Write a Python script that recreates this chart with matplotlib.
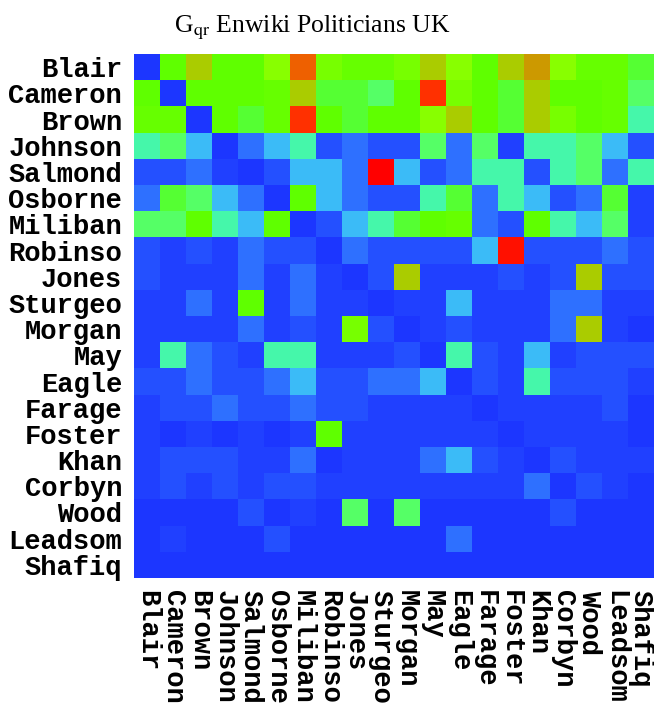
import numpy as np
import matplotlib
matplotlib.use('Agg')
import matplotlib.pyplot as plt
from matplotlib.colors import ListedColormap, BoundaryNorm

# politicians (rows and columns share the same order)
names = ['Blair', 'Cameron', 'Brown', 'Johnson', 'Salmond', 'Osborne', 'Miliban',
         'Robinso', 'Jones', 'Sturgeo', 'Morgan', 'May', 'Eagle', 'Farage',
         'Foster', 'Khan', 'Corbyn', 'Wood', 'Leadsom', 'Shafiq']

# colour levels seen in the picture, low -> high
level_colors = ['#1c36ff', '#2040ff', '#2450ff', '#2e70ff', '#3bbbf7', '#45f7aa',
                '#55ff66', '#55ff33', '#5fff00', '#66ff00', '#77ff00', '#88ff00',
                '#aacc00', '#cc9900', '#ee6000', '#ff3000', '#ff1000', '#ff0000']

# G_qr matrix, read as colour level per cell
row_blair   = [0, 8, 12, 8, 8, 11, 14, 10, 9, 9, 10, 12, 11, 8, 12, 13, 11, 9, 9, 7]
row_cameron = [8, 0, 8, 8, 8, 9, 12, 7, 7, 6, 8, 15, 10, 8, 7, 12, 8, 8, 9, 6]
row_brown   = [9, 9, 0, 8, 7, 9, 15, 8, 7, 8, 8, 11, 12, 8, 7, 12, 10, 8, 9, 5]
row_johnson = [5, 6, 4, 0, 3, 4, 5, 2, 3, 2, 2, 6, 3, 6, 1, 5, 5, 6, 4, 2]
row_salmond = [2, 2, 3, 1, 0, 2, 4, 4, 3, 17, 4, 2, 3, 5, 5, 2, 5, 6, 3, 5]
row_osborne = [3, 7, 6, 4, 3, 0, 8, 4, 3, 2, 2, 5, 7, 3, 5, 4, 2, 3, 7, 1]
row_miliban = [6, 6, 8, 5, 4, 8, 0, 2, 4, 5, 7, 8, 9, 3, 2, 8, 5, 4, 6, 1]
row_robinso = [2, 1, 2, 1, 3, 2, 2, 0, 3, 2, 2, 2, 2, 4, 16, 2, 2, 2, 3, 2]
row_jones   = [2, 1, 1, 1, 3, 1, 3, 1, 0, 2, 12, 1, 1, 1, 2, 1, 2, 12, 2, 2]
row_sturgeo = [1, 1, 3, 1, 8, 1, 3, 1, 1, 0, 1, 1, 4, 1, 1, 1, 3, 3, 1, 1]
row_morgan  = [1, 1, 1, 1, 3, 1, 2, 1, 10, 2, 0, 1, 2, 1, 1, 1, 3, 12, 1, 0]
row_may     = [1, 5, 3, 2, 1, 5, 5, 1, 1, 1, 2, 0, 5, 2, 1, 4, 1, 2, 2, 2]
row_eagle   = [2, 2, 3, 2, 2, 3, 4, 2, 2, 3, 3, 4, 0, 2, 1, 5, 2, 2, 2, 1]
row_farage  = [1, 2, 2, 3, 2, 2, 3, 2, 2, 1, 1, 1, 1, 0, 1, 1, 1, 1, 2, 0]
row_foster  = [1, 0, 1, 0, 1, 0, 1, 8, 1, 1, 1, 1, 1, 1, 0, 1, 1, 1, 1, 0]
row_khan    = [1, 2, 2, 2, 1, 1, 3, 0, 1, 1, 1, 3, 4, 2, 1, 0, 2, 1, 1, 1]
row_corbyn  = [1, 2, 1, 2, 1, 2, 2, 1, 1, 1, 1, 1, 1, 1, 1, 3, 0, 2, 1, 0]
row_wood    = [0, 0, 0, 0, 2, 0, 1, 0, 6, 0, 6, 0, 0, 0, 0, 0, 2, 0, 0, 0]
row_leadsom = [0, 1, 0, 0, 0, 2, 0, 0, 0, 0, 0, 0, 3, 0, 0, 0, 0, 0, 0, 0]
row_shafiq  = [0] * 20

G = np.array([row_blair, row_cameron, row_brown, row_johnson, row_salmond,
              row_osborne, row_miliban, row_robinso, row_jones, row_sturgeo,
              row_morgan, row_may, row_eagle, row_farage, row_foster, row_khan,
              row_corbyn, row_wood, row_leadsom, row_shafiq])

cmap = ListedColormap(level_colors)
norm = BoundaryNorm(np.arange(len(level_colors) + 1) - 0.5, cmap.N)

plt.rcParams['mathtext.fontset'] = 'stix'

fig = plt.figure(figsize=(6.54, 7.09), dpi=100)
ax = fig.add_axes([134 / 654, 131 / 709, 520 / 654, 524 / 709])
ax.imshow(G, cmap=cmap, norm=norm, interpolation='nearest', aspect='auto')

ax.set_xticks(range(len(names)))
ax.set_yticks(range(len(names)))
ax.set_xticklabels(names, rotation=-90, va='top', ha='center')
ax.set_yticklabels(names)
for lab in ax.get_xticklabels() + ax.get_yticklabels():
    lab.set_fontfamily('Liberation Mono')
    lab.set_fontweight('bold')
    lab.set_fontsize(19.5)
ax.tick_params(length=0, pad=8.5)
for s in ax.spines.values():
    s.set_visible(False)

fig.text(312 / 654, 677 / 709, 'G$_{\\rm qr}$ Enwiki Politicians UK',
         ha='center', va='baseline', fontsize=18.5, family='Liberation Serif')

fig.savefig('out.png', dpi=100)
